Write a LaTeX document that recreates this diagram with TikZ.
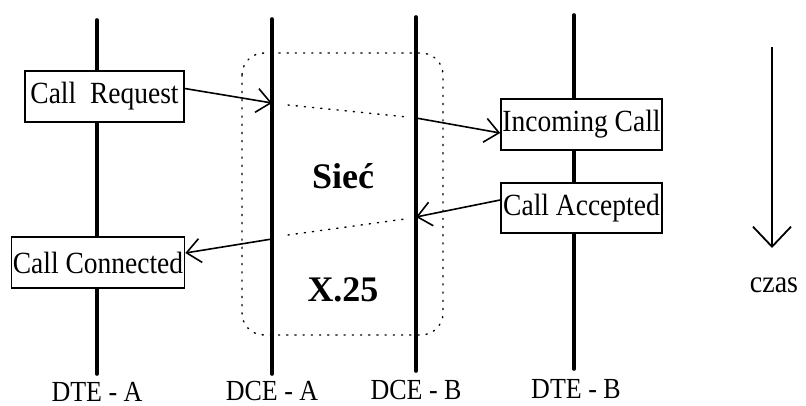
\documentclass[tikz,border=0pt]{standalone}
\usepackage{fontspec}
\setmainfont{Liberation Serif}
\usetikzlibrary{arrows.meta}
\newcommand{\tallish}[1]{\scalebox{1}[1.12]{#1}}
\tikzset{
  life/.style={line width=3.6pt, line cap=round},
  msgbox/.style={draw, line width=1.6pt, fill=white, inner sep=0pt,
     minimum height=51pt, font=\fontsize{27.5}{30}\selectfont},
  msg/.style={line width=1.6pt, -{Straight Barb[length=14pt,width=24pt,line width=1.6pt]}},
  netdots/.style={line width=1.4pt, dash pattern=on 1.2pt off 7pt, line cap=round},
  netlabel/.style={font=\fontsize{36}{40}\selectfont\bfseries},
  entity/.style={inner sep=0pt, font=\fontsize{26}{28}\selectfont},
}
\begin{document}
\begin{tikzpicture}[x=1pt,y=-1pt]
\useasboundingbox (0,0) rectangle (806,406);
% network cloud
\draw[netdots, rounded corners=22pt] (242,53) rectangle (443,335);
\coordinate (d1a) at (288,105); \coordinate (d1b) at (407,117);
\coordinate (d2a) at (288,235); \coordinate (d2b) at (405,219);
\draw[netdots] (d1a) -- (d1b);
\draw[netdots] (d2a) -- (d2b);
% life lines
\coordinate (ta) at (97,20);  \coordinate (ba) at (97,374);
\coordinate (tb) at (272,19); \coordinate (bb) at (272,374);
\coordinate (tc) at (416,17); \coordinate (bc) at (416,371);
\coordinate (td) at (574,15); \coordinate (bd) at (574,369);
\draw[life] (ta) -- (ba);
\draw[life] (tb) -- (bb);
\draw[life] (tc) -- (bc);
\draw[life] (td) -- (bd);
% boxes
\node[msgbox, minimum width=159pt] (cr) at (104.5,96.5) {\tallish{Call\hspace{0.5em}Request}};
\node[msgbox, minimum width=173pt] (cc) at (98,262.5) {\tallish{Call Connected}};
\node[msgbox, minimum width=161pt] (ic) at (581.5,124.5) {\tallish{Incoming Call}};
\node[msgbox, minimum width=161pt, minimum height=50pt] (ca) at (581.5,208) {\tallish{Call Accepted}};
% message arrows
\coordinate (p1) at (272,103);
\coordinate (p2) at (272,239);
\coordinate (p3) at (416,118);
\coordinate (p4) at (416,217);
\draw[msg] ([yshift=8pt]cr.east) -- (p1);
\draw[msg] (p2) -- ([yshift=9.5pt]cc.east);
\draw[msg] (p3) -- ([yshift=-8.5pt]ic.west);
\draw[msg] ([yshift=8pt]ca.west) -- (p4);
% network labels
\node[netlabel] (siec) at (343,176) {Sieć};
\node[netlabel] (x25) at (343,290) {X.25};
% entity labels
\node[entity] (la) at (97,391.5) {\tallish{DTE - A}};
\node[entity] (lb) at (272,391.5) {\tallish{DCE - A}};
\node[entity] (lc) at (416,390.5) {\tallish{DCE - B}};
\node[entity] (ld) at (576,389) {\tallish{DTE - B}};
% time arrow
\coordinate (t0) at (772,47);
\coordinate (t1) at (772,248);
\draw[line width=1.8pt, -{Straight Barb[length=20pt,width=38pt,line width=1.8pt]}] (t0) -- (t1);
\node[font=\fontsize{28}{30}\selectfont] (czas) at (774,285) {\tallish{czas}};
\end{tikzpicture}
\end{document}
